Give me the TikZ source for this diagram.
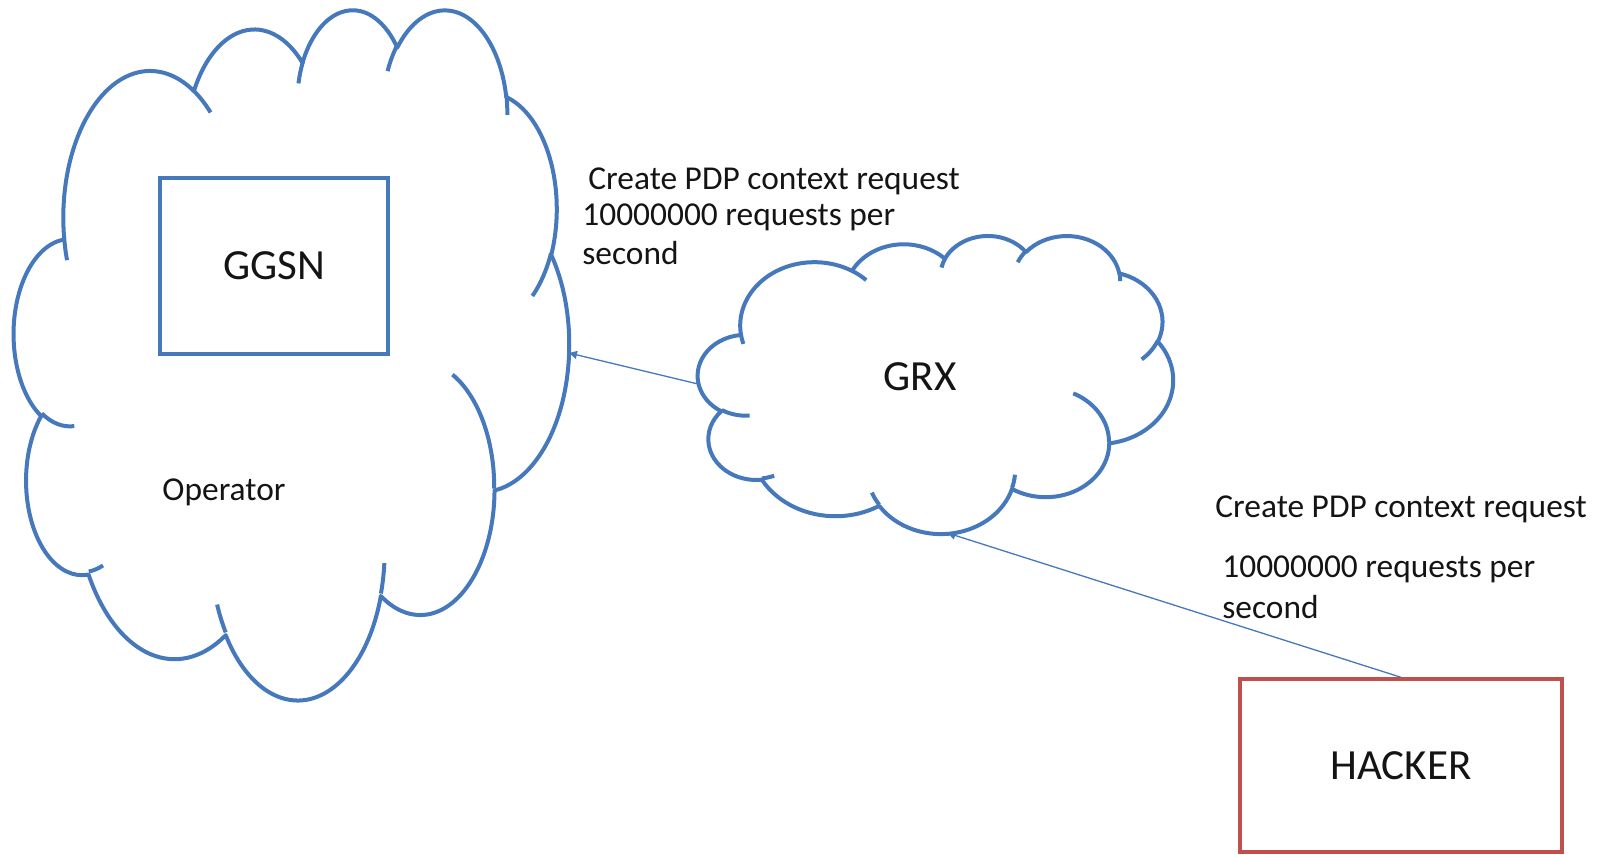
\documentclass[tikz,border=0pt]{standalone}
\usepackage{fontspec}
\setmainfont{Carlito}
\usetikzlibrary{arrows.meta,calc}
\definecolor{cblue}{RGB}{70,120,188}
\definecolor{cred}{RGB}{192,80,77}
\definecolor{ctext}{RGB}{20,20,20}

% Office-style elliptical arcTo: radii, start angle, sweep (visual angles)
\newcommand\carc[4]{arc[x radius=#1, y radius=#2,
  start angle={atan2((#1)*sin(#3),(#2)*cos(#3))},
  delta angle={mod(atan2((#1)*sin((#3)+(#4)),(#2)*cos((#3)+(#4)))-atan2((#1)*sin(#3),(#2)*cos(#3))+720,360)}]}

\newcommand\officecloud[5]{%
  \pgfmathsetmacro\cldw{#4*0.5}\pgfmathsetmacro\cldh{#5*0.5}%
  \node[cloudframe, minimum width=\cldw pt, minimum height=\cldh pt, anchor=north west] (#1) at (#2,#3) {};
  \pgfmathsetmacro\cldx{#4*0.5/43.2}\pgfmathsetmacro\cldy{#5*0.5/43.2}%
  \begin{scope}[shift={(#2,#3)}, x=\cldx pt, y=-\cldy pt]
    \draw[cloudline] (3.9,14.37) \carc{6.753}{9.19}{-190.4875}{123.7805}
      \carc{5.333}{7.267}{-144.1024}{89.9452}
      \carc{4.365}{5.945}{-145.8079}{99.7230}
      \carc{4.857}{6.595}{-130.9861}{117.2417}
      \carc{5.333}{7.273}{-78.7089}{109.0269}
      \carc{6.775}{9.22}{-46.2673}{130.269}
      \carc{5.785}{7.867}{0.625}{114.0333}
      \carc{6.752}{9.215}{22.4516}{115.1726}
      \carc{7.72}{10.543}{66.2426}{75.7110}
      \carc{4.36}{5.918}{-274.9421}{146.7356}
      \carc{4.345}{5.945}{-246.8285}{152.5254} -- cycle;
    \draw[cloudline]
      (4.693,26.177) \carc{4.345}{5.945}{86.742}{26.430}
      (6.928,34.899) \carc{4.36}{5.918}{73.611}{11.447}
      (16.478,39.09) \carc{6.752}{9.215}{137.624}{14.081}
      (28.827,34.751) \carc{6.752}{9.215}{6.453}{15.998}
      (34.129,22.954) \carc{5.785}{7.867}{-70.292}{70.917}
      (41.798,15.354) \carc{5.333}{7.273}{30.318}{27.752}
      (38.324,5.426) \carc{4.857}{6.595}{-13.744}{14.859}
      (29.078,3.952) \carc{4.857}{6.595}{-149.181}{18.195}
      (22.141,4.72) \carc{4.365}{5.945}{-163.494}{17.686}
      (14.0,5.192) \carc{6.753}{9.19}{-66.707}{12.319}
      (4.127,15.789) \carc{6.753}{9.19}{157.654}{11.858};
  \end{scope}}

\tikzset{
  cloudframe/.style={inner sep=0pt, outer sep=0pt, draw=none},
  cloudline/.style={draw=cblue, line width=2pt, line join=round},
  bigtext/.style={font=\fontsize{21.5}{25}\selectfont, text=ctext, inner sep=0pt},
  smalltext/.style={font=\fontsize{16.7}{20}\selectfont, text=ctext, inner sep=0pt},
  lbl/.style={smalltext, anchor=base west},
  bluebox/.style={draw=cblue, line width=2pt, bigtext},
  redbox/.style={draw=cred, line width=1.7pt, bigtext},
  conn/.style={draw=cblue, line width=0.65pt, -{Triangle[length=4pt,width=4pt]}},
}

\begin{document}
\begin{tikzpicture}[x=0.5pt, y=-0.5pt]
  \useasboundingbox[fill=white] (0,0) rectangle (1598,855);

  \officecloud{op}{14}{8}{555}{690}
  \officecloud{grx}{698}{235}{475}{298}

  \node[bluebox, minimum width=114pt, minimum height=88pt] (ggsn) at (274,266) {GGSN};
  \node[smalltext] (oplabel) at (224,492) {Operator};
  \node[bigtext] (grxlabel) at (920,377) {GRX};
  \node[redbox, minimum width=161pt, minimum height=86.5pt] (hacker) at (1401,765.5) {HACKER};

  \node[lbl] (t1) at (588,190) {Create PDP context request};
  \node[lbl] (t2) at (582,226) {10000000 requests per};
  \node[lbl] (t3) at (582,265) {second};

  \node[lbl] (b1) at (1215,517) {Create PDP context request};
  \node[lbl] (b2) at (1222,577) {10000000 requests per};
  \node[lbl] (b3) at (1222,618) {second};

  \coordinate (grxS) at ($(grx.south)+(12,0)$);
  \draw[conn] (grx.west) -- (op.east);
  \draw[conn] (hacker.north) -- (grxS);
\end{tikzpicture}
\end{document}
